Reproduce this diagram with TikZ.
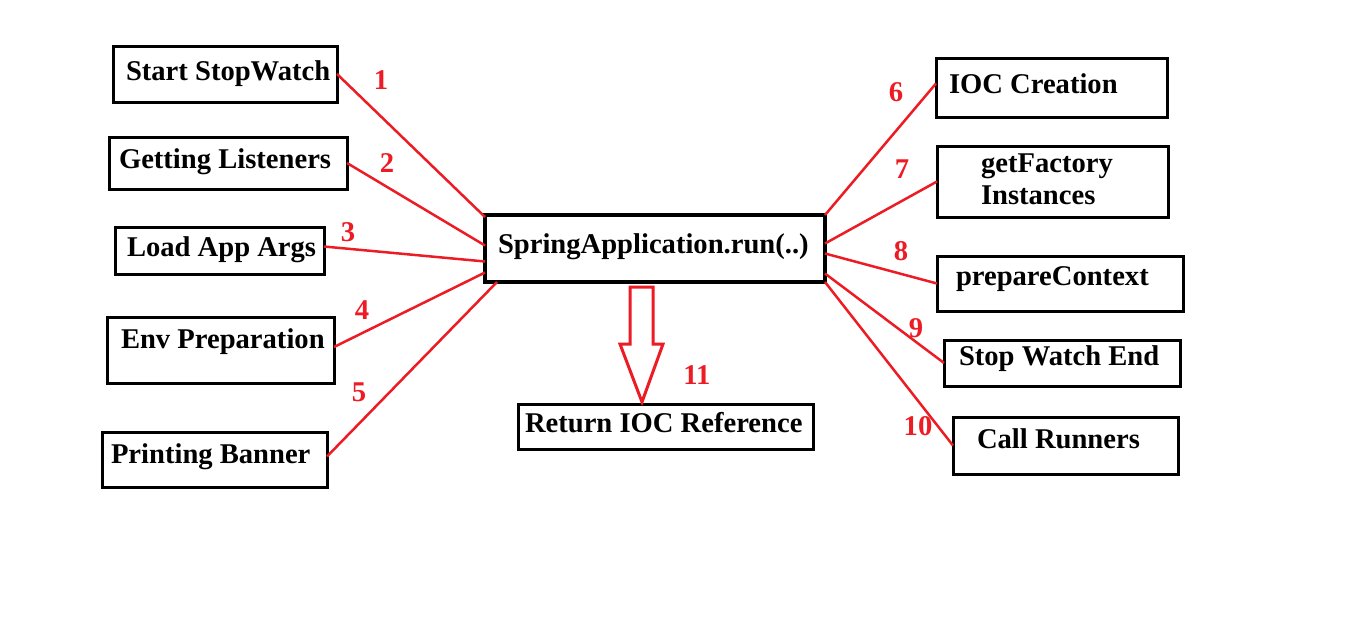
\documentclass[tikz,border=0pt]{standalone}
\usepackage{fontspec}
\setmainfont{Liberation Serif}
\usetikzlibrary{fit}
\definecolor{pred}{RGB}{237,28,36}
\tikzset{
  box/.style={draw=black, line width=3pt, inner sep=0pt, outer sep=0pt, fill=none},
  mainbox/.style={draw=black, line width=4.5pt, inner sep=0pt, outer sep=0pt},
  txt/.style={inner sep=0pt, outer sep=0pt, anchor=base west, font=\fontsize{28.6}{31}\selectfont\bfseries},
  num/.style={inner sep=0pt, outer sep=0pt, text=pred, font=\fontsize{28.6}{31}\selectfont\bfseries},
  link/.style={draw=pred, line width=2.5pt},
  barrow/.style={draw=pred, line width=3pt, fill=white, line join=miter}
}
\begin{document}
\begin{tikzpicture}[x=1pt,y=-1pt]
\useasboundingbox[fill=white] (0,0) rectangle (1360,622);
% left boxes
\node[box, fit={(113,46)(337,102)}] (ss) {};
\node[txt] (ssT) at (126,80) {Start StopWatch};
\node[box, fit={(109,137)(347,189)}] (gl) {};
\node[txt] (glT) at (119,168) {Getting Listeners};
\node[box, fit={(115,227)(324,274)}] (la) {};
\node[txt] (laT) at (127,256) {Load App Args};
\node[box, fit={(107,317)(334,383)}] (ep) {};
\node[txt] (epT) at (121,348) {Env Preparation};
\node[box, fit={(102,432)(327,487)}] (pb) {};
\node[txt] (pbT) at (111,463) {Printing Banner};
% centre
\node[mainbox, fit={(485,215)(825,282)}] (main) {};
\node[txt] (mainT) at (498,253) {SpringApplication.run(..)};
\node[box, fit={(518,404)(813,449)}] (ret) {};
\node[txt] (retT) at (525,432) {Return IOC Reference};
% right boxes
\node[box, fit={(936,58)(1167,117)}] (ioc) {};
\node[txt] (iocT) at (949,93) {IOC Creation};
\node[box, fit={(937,146)(1168,217)}] (gf) {};
\node[txt] (gfT1) at (981,172) {getFactory};
\node[txt] (gfT2) at (981,204) {Instances};
\node[box, fit={(937,256)(1183,311)}] (pc) {};
\node[txt] (pcT) at (956,285) {prepareContext};
\node[box, fit={(944,340)(1180,386)}] (sw) {};
\node[txt] (swT) at (959,365) {Stop Watch End};
\node[box, fit={(953,417)(1178,474)}] (cr) {};
\node[txt] (crT) at (977,448) {Call Runners};
% connectors
\draw[link] (ss.east) -- ([yshift=-2pt]main.north west);
\draw[link] (gl.east) -- ([yshift=3pt]main.west);
\draw[link] ([yshift=4pt]la.east) -- ([yshift=-13pt]main.west);
\draw[link] ([yshift=3pt]ep.east) -- ([yshift=-24pt]main.west);
\draw[link] ([yshift=3pt]pb.east) -- ([xshift=12pt]main.south west);
\draw[link] (main.north east) -- ([yshift=4pt]ioc.west);
\draw[link] ([yshift=5pt]main.east) -- (gf.west);
\draw[link] ([yshift=-5pt]main.east) -- (pc.west);
\draw[link] ([yshift=-25pt]main.east) -- (sw.west);
\draw[link] (main.south east) -- (cr.west);
% block arrow
\draw[barrow] (630,287) -- (653,287) -- (653,344) -- (663,344) -- (642,402) -- (620,344) -- (630,344) -- cycle;
% numbers
\node[num] (n1) at (381,80) {1};
\node[num] (n2) at (387,163) {2};
\node[num] (n3) at (348,232) {3};
\node[num] (n4) at (362,310) {4};
\node[num] (n5) at (359,392) {5};
\node[num] (n6) at (896,92) {6};
\node[num] (n7) at (902,169) {7};
\node[num] (n8) at (901,251) {8};
\node[num] (n9) at (916,328) {9};
\node[num] (n10) at (918,426) {10};
\node[num] (n11) at (697,375) {11};
\end{tikzpicture}
\end{document}
